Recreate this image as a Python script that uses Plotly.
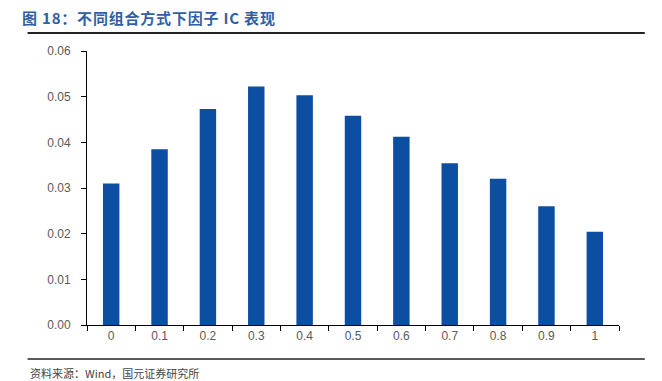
import plotly.graph_objects as go

categories = ["0", "0.1", "0.2", "0.3", "0.4", "0.5", "0.6", "0.7", "0.8", "0.9", "1"]
ic_values = [0.0310, 0.0385, 0.0473, 0.0522, 0.0503, 0.0458, 0.0412, 0.0354, 0.0320, 0.0260, 0.0204]
y_ticks = [0, 0.01, 0.02, 0.03, 0.04, 0.05, 0.06]

W, H = 662, 381
L, R, T, B = 86.5, 619.2, 51, 325

def px(x):
    return (x - L) / (R - L)

def py(y):
    return (B - y) / (B - T)

fig = go.Figure()
fig.add_trace(go.Bar(
    x=categories, y=ic_values,
    marker=dict(color="#0B4EA2", line=dict(width=0)),
))

fig.update_layout(
    width=W, height=H,
    margin=dict(l=L, r=W - R, t=T, b=H - B, pad=0),
    paper_bgcolor="white", plot_bgcolor="white",
    showlegend=False,
    bargap=0.66,
    font=dict(family="Liberation Sans, Arial, sans-serif", size=12, color="#595959"),
    xaxis=dict(
        type="category", tickson="boundaries",
        showline=True, linecolor="black", linewidth=1,
        ticks="outside", ticklen=5, tickcolor="black",
        showgrid=False, zeroline=False,
        tickfont=dict(size=12, color="#595959"),
    ),
    yaxis=dict(
        range=[0, 0.06], tickvals=y_ticks, tickformat=".2f",
        showline=True, linecolor="black", linewidth=1,
        ticks="outside", ticklen=5, tickcolor="black",
        showgrid=False, zeroline=False,
        tickfont=dict(size=12, color="#595959"),
        ticklabelstandoff=8,
    ),
    shapes=[
        dict(type="line", xref="paper", yref="paper",
             x0=px(27), x1=px(645), y0=py(33), y1=py(33),
             line=dict(color="#222222", width=2)),
        dict(type="line", xref="paper", yref="paper",
             x0=px(27), x1=px(645), y0=py(359), y1=py(359),
             line=dict(color="#222222", width=1.5)),
    ],
    annotations=[
        dict(text="<b>图 18：不同组合方式下因子 IC 表现</b>",
             xref="paper", yref="paper", x=px(27), y=py(17),
             xanchor="left", yanchor="middle", showarrow=False,
             font=dict(family="Noto Sans CJK SC", size=15, color="#3060A3")),
        dict(text="资料来源：Wind，国元证券研究所",
             xref="paper", yref="paper", x=px(27), y=py(373),
             xanchor="left", yanchor="middle", showarrow=False,
             font=dict(family="Noto Sans CJK SC", size=11, color="#444444")),
    ],
)

fig.write_html(
    "out.html",
    config={"displayModeBar": False},
    post_script=(
        "document.body.style.margin='0';document.body.style.overflow='hidden';"
        "var a=document.querySelectorAll('.annotation-text');"
        "if(a.length){a[0].style.letterSpacing='0.8px';}"
    ),
)
